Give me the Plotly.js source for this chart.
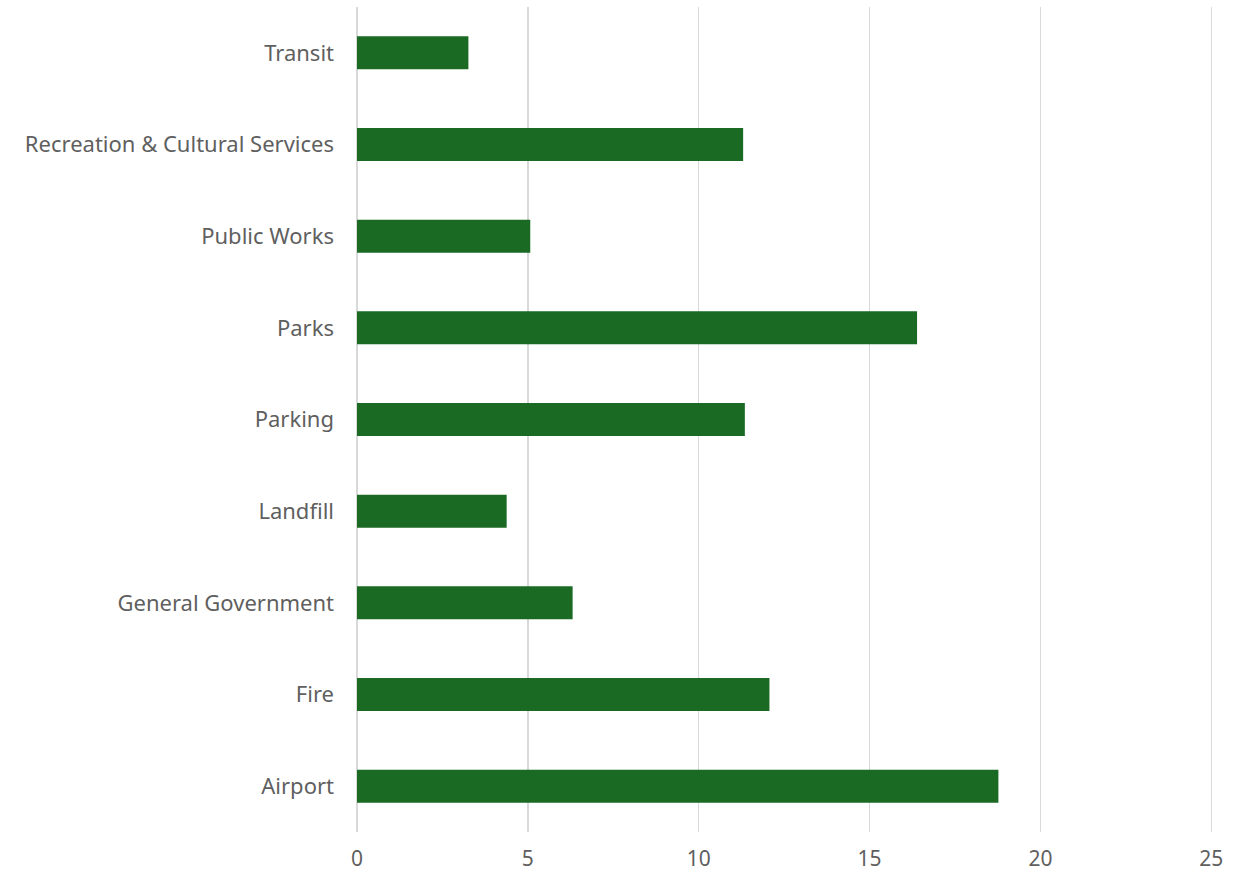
<!DOCTYPE html>
<html>
<head>
<meta charset="utf-8">
<script src="https://cdn.plot.ly/plotly-3.0.1.min.js"></script>
<style>html,body{margin:0;padding:0;background:#fff;}#chart{width:1246px;height:872px;}</style>
</head>
<body>
<div id="chart"></div>
<script>
const categories = ["Airport", "Fire", "General Government", "Landfill", "Parking", "Parks", "Public Works", "Recreation & Cultural Services", "Transit"];
const values = [18.77, 12.07, 6.31, 4.38, 11.35, 16.39, 5.07, 11.30, 3.26];
const xTicks = [0, 5, 10, 15, 20, 25];

const trace = {
  type: "bar",
  orientation: "h",
  y: categories,
  x: values,
  marker: {color: "#1b6a24"},
  hoverinfo: "x+y"
};

const layout = {
  width: 1246,
  height: 872,
  margin: {l: 357, r: 33, t: 7, b: 40},
  paper_bgcolor: "#ffffff",
  plot_bgcolor: "#ffffff",
  bargap: 0.64,
  showlegend: false,
  font: {family: "Noto Sans, sans-serif", size: 22, color: "#5f5f5f"},
  xaxis: {
    range: [0, 25.05],
    tickvals: xTicks,
    ticktext: xTicks.map(String),
    showgrid: true,
    gridcolor: "#d9d9d9",
    gridwidth: 1.5,
    zeroline: true,
    zerolinecolor: "#d9d9d9",
    zerolinewidth: 1.5,
    showline: false,
    ticks: "",
    ticklabelstandoff: 12,
    tickfont: {size: 21, color: "#5f5f5f"},
    fixedrange: true
  },
  yaxis: {
    type: "category",
    categoryorder: "array",
    categoryarray: categories,
    showgrid: false,
    showline: false,
    ticks: "",
    ticklabelstandoff: 22,
    tickfont: {size: 22, color: "#5f5f5f"},
    fixedrange: true
  }
};

Plotly.newPlot("chart", [trace], layout, {displayModeBar: false, staticPlot: true});
</script>
</body>
</html>
